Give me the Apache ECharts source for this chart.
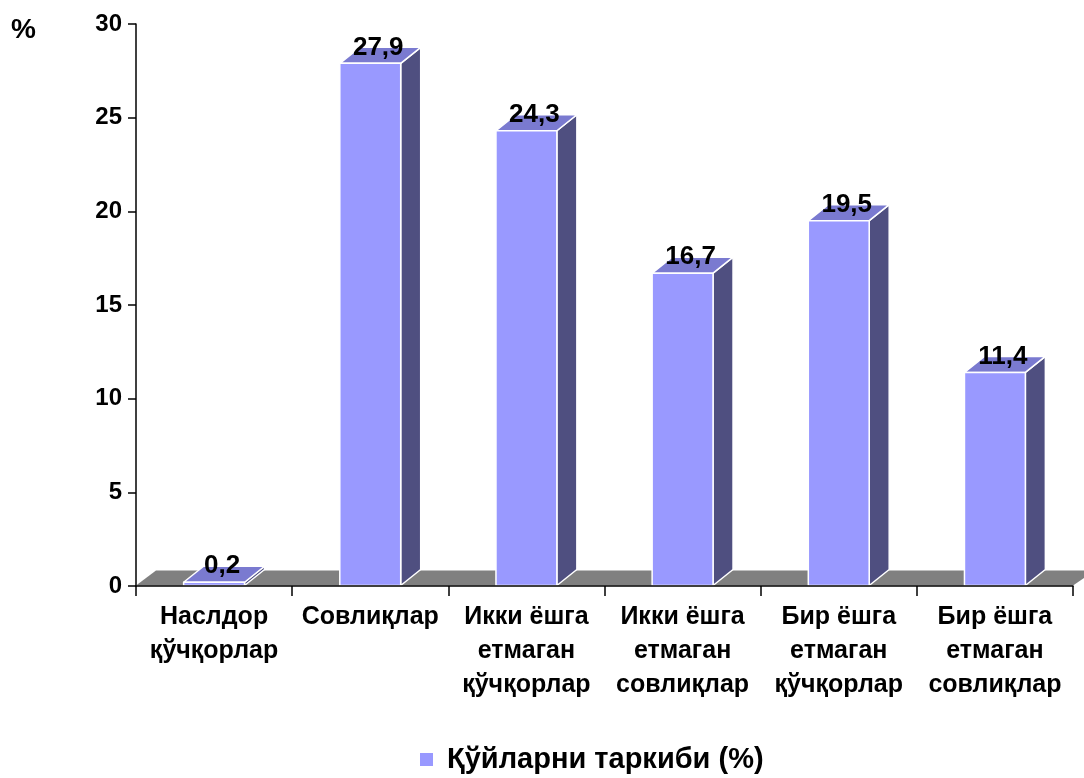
<!DOCTYPE html>
<html><head><meta charset="utf-8">
<script src="https://cdn.jsdelivr.net/npm/echarts@6/dist/echarts.min.js"></script>
<style>html,body{margin:0;padding:0;background:#fff}#c{width:1084px;height:778px}</style>
</head><body><div id="c"></div>
<script>
const categories = ['Наслдор\nқўчқорлар', 'Совлиқлар', 'Икки ёшга\nетмаган\nқўчқорлар', 'Икки ёшга\nетмаган\nсовлиқлар', 'Бир ёшга\nетмаган\nқўчқорлар', 'Бир ёшга\nетмаган\nсовлиқлар'];
const values = [0.2, 27.9, 24.3, 16.7, 19.5, 11.4];
const valueLabels = ['0,2', '27,9', '24,3', '16,7', '19,5', '11,4'];
const seriesName = 'Қўйларни таркиби (%)';
const yTicks = [0, 5, 10, 15, 20, 25, 30];

const FONT = '"Liberation Sans", Arial, sans-serif';
const DX = 20, DY = -16;
const chart = echarts.init(document.getElementById('c'));

function barItem(params, api) {
  const i = api.value(0), v = api.value(1);
  const base = api.coord([i, 0]);
  const top = api.coord([i, v]);
  const w = api.size([1, 0])[0] * 0.39;
  const x0 = base[0] - w / 2, x1 = base[0] + w / 2;
  const yb = base[1] - 0.5, yt = top[1];
  const st = { stroke: '#ffffff', lineWidth: 1.5, lineJoin: 'round' };
  return {
    type: 'group',
    children: [
      { type: 'polygon', shape: { points: [[x1, yb], [x1 + DX, yb + DY], [x1 + DX, yt + DY], [x1, yt]] }, style: Object.assign({ fill: '#4f4f80' }, st) },
      { type: 'polygon', shape: { points: [[x0, yt], [x1, yt], [x1 + DX, yt + DY], [x0 + DX, yt + DY]] }, style: Object.assign({ fill: '#7a7ad0' }, st) },
      { type: 'rect', shape: { x: x0, y: yt, width: w, height: yb - yt }, style: Object.assign({ fill: '#9999ff' }, st) },
      { type: 'text', x: base[0] + 8, y: yt - 3, style: { text: valueLabels[params.dataIndex], font: 'bold 26px ' + FONT, fill: '#000', align: 'center', verticalAlign: 'bottom' }, z2: 10 }
    ]
  };
}

function floorItem(params, api) {
  const cs = params.coordSys;
  const y0 = cs.y + cs.height - 0.5;
  const x0 = cs.x, x1 = cs.x + cs.width;
  return {
    type: 'polygon',
    shape: { points: [[x0, y0], [x1, y0], [x1 + DX + 2, y0 - 15], [x0 + DX, y0 - 15]] },
    style: { fill: '#808080' }
  };
}

chart.setOption({
  animation: false,
  grid: { left: 136, right: 11, top: 24, bottom: 192 },
  legend: {
    left: 415, top: 740,
    itemWidth: 13, itemHeight: 13, itemGap: 10,
    icon: 'rect',
    textStyle: { fontFamily: FONT, fontWeight: 'bold', fontSize: 29, color: '#000', padding: [0, 0, 0, 9] },
    data: [{ name: seriesName, itemStyle: { color: '#9999ff' } }]
  },
  graphic: [{ type: 'text', left: 11, top: 16, style: { text: '%', font: 'bold 28px ' + FONT, fill: '#000' } }],
  xAxis: {
    type: 'category', data: categories,
    axisLine: { lineStyle: { color: '#000', width: 1.5 } },
    axisTick: { show: true, length: 10, lineStyle: { color: '#000', width: 1.5 } },
    axisLabel: { interval: 0, fontFamily: FONT, fontWeight: 'bold', fontSize: 25, color: '#000', lineHeight: 34, margin: 14 },
    z: 5
  },
  yAxis: {
    type: 'value', min: 0, max: 30, interval: 5,
    splitLine: { show: false },
    axisLine: { show: true, lineStyle: { color: '#000', width: 1.5 } },
    axisTick: { show: true, length: 8, lineStyle: { color: '#000', width: 1.5 } },
    axisLabel: { fontFamily: FONT, fontWeight: 'bold', fontSize: 24, color: '#000', margin: 14, formatter: v => yTicks.includes(v) ? String(v) : '' }
  },
  series: [
    { type: 'custom', name: 'floor', renderItem: floorItem, data: [[0, 0]], silent: true, z: 1 },
    { type: 'custom', name: seriesName, renderItem: barItem, itemStyle: { color: '#9999ff' },
      data: values.map((v, i) => [i, v]), encode: { x: 0, y: 1 }, z: 3 }
  ]
});
</script></body></html>
